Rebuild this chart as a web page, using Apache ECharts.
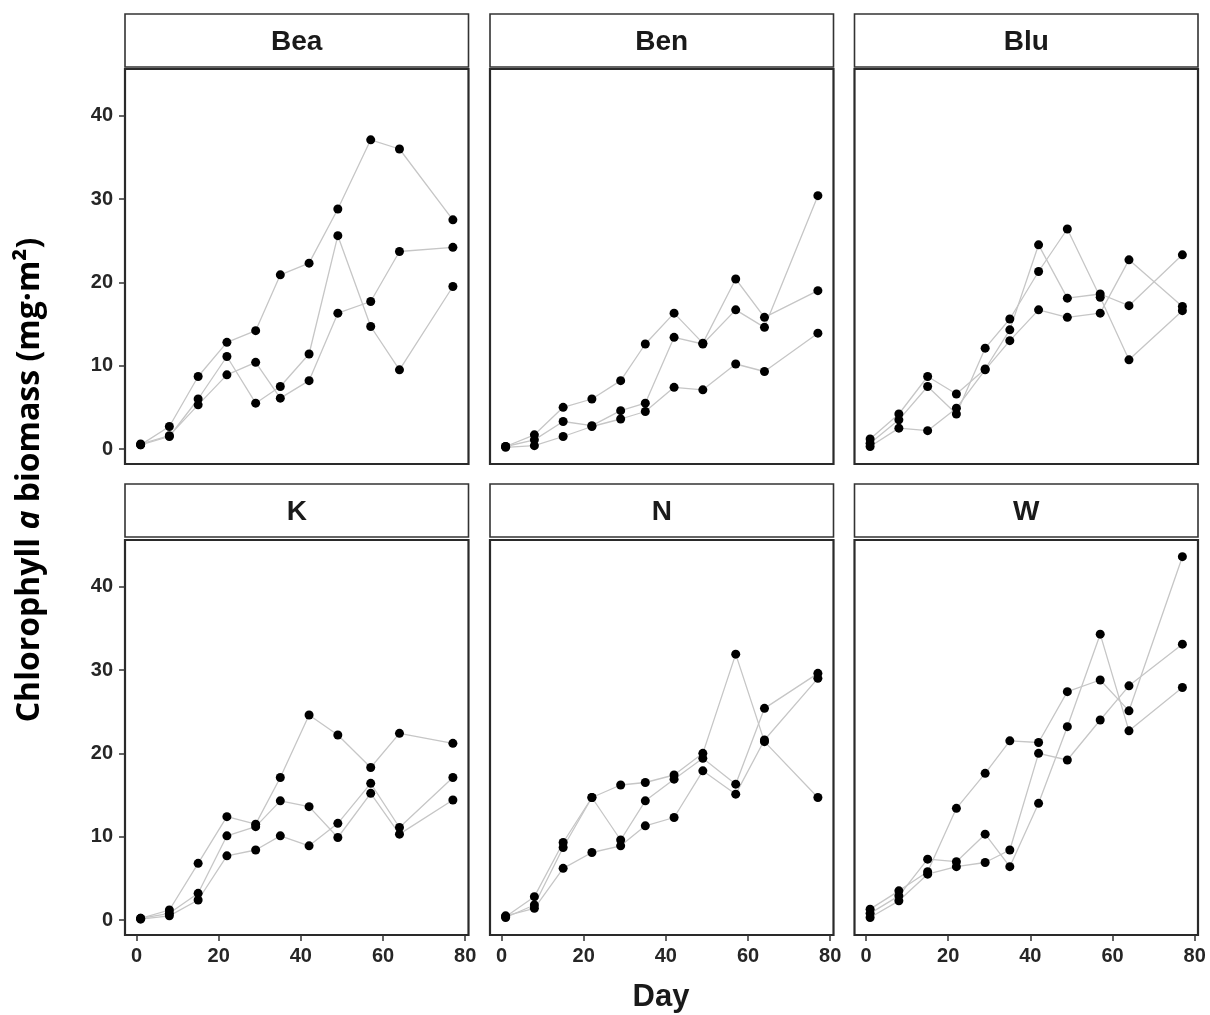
<!DOCTYPE html>
<html>
<head>
<meta charset="utf-8">
<script src="https://cdn.jsdelivr.net/npm/echarts@6/dist/echarts.min.js"></script>
<style>
html,body{margin:0;padding:0;background:#fff;}
#chart{width:1210px;height:1015px;}
</style>
</head>
<body>
<div id="chart"></div>
<script>
// ---- Data ----
const days = [1, 8, 15, 22, 29, 35, 42, 49, 57, 64, 77];
const panelNames = ['Bea', 'Ben', 'Blu', 'K', 'N', 'W'];
const xTicks = [0, 20, 40, 60, 80];
const yTicks = [0, 10, 20, 30, 40];

const bea1 = [0.5, 2.7, 8.7, 12.8, 14.2, 20.9, 22.3, 28.8, 37.1, 36.0, 27.5];
const bea2 = [0.5, 1.5, 6.0, 11.1, 5.5, 7.5, 11.4, 25.6, 14.7, 9.5, 19.5];
const bea3 = [0.6, 1.6, 5.3, 8.9, 10.4, 6.1, 8.2, 16.3, 17.7, 23.7, 24.2];

const ben1 = [0.3, 1.7, 5.0, 6.0, 8.2, 12.6, 16.3, 12.7, 20.4, 15.8, 19.0];
const ben2 = [0.3, 1.1, 3.3, 2.8, 4.6, 5.5, 13.4, 12.6, 16.7, 14.6, 30.4];
const ben3 = [0.2, 0.4, 1.5, 2.7, 3.6, 4.5, 7.4, 7.1, 10.2, 9.3, 13.9];

const blu1 = [1.2, 4.2, 8.7, 6.6, 9.6, 14.3, 24.5, 18.1, 18.6, 17.2, 23.3];
const blu2 = [0.7, 3.5, 7.5, 4.2, 12.1, 15.6, 21.3, 26.4, 18.2, 10.7, 16.6];
const blu3 = [0.3, 2.5, 2.2, 4.9, 9.5, 13.0, 16.7, 15.8, 16.3, 22.7, 17.1];

const k1 = [0.2, 1.2, 6.8, 12.4, 11.5, 17.1, 24.6, 22.2, 18.3, 22.4, 21.2];
const k2 = [0.2, 0.8, 3.2, 10.1, 11.2, 14.3, 13.6, 9.9, 15.2, 10.3, 14.4];
const k3 = [0.1, 0.5, 2.4, 7.7, 8.4, 10.1, 8.9, 11.6, 16.4, 11.1, 17.1];

const n1 = [0.4, 2.8, 9.3, 14.7, 16.2, 16.5, 17.4, 20.0, 31.9, 21.4, 14.7];
const n2 = [0.3, 1.8, 8.7, 14.7, 9.6, 14.3, 16.9, 19.4, 16.3, 25.4, 29.6];
const n3 = [0.5, 1.4, 6.2, 8.1, 8.9, 11.3, 12.3, 17.9, 15.1, 21.6, 29.0];

const w1 = [1.3, 3.5, 5.8, 13.4, 17.6, 21.5, 21.3, 27.4, 28.8, 25.1, 43.6];
const w2 = [0.8, 2.9, 7.3, 7.0, 10.3, 6.4, 14.0, 23.2, 34.3, 22.7, 27.9];
const w3 = [0.3, 2.3, 5.5, 6.4, 6.9, 8.4, 20.0, 19.2, 24.0, 28.1, 33.1];

const panelSeries = [
  [bea1, bea2, bea3],
  [ben1, ben2, ben3],
  [blu1, blu2, blu3],
  [k1, k2, k3],
  [n1, n2, n3],
  [w1, w2, w3]
];

// ---- Layout ----
const colLefts = [125, 490, 854.5];
const panelW = 343.5;
const rowTops = [69, 540];
const panelH = 395;
const stripTops = [14, 484];
const stripH = 53;

const labelFont = '"Liberation Sans", Arial, sans-serif';
const textColor = '#262626';

const grids = [], xAxes = [], yAxes = [], series = [], graphics = [];

panelNames.forEach((name, p) => {
  const col = p % 3, row = Math.floor(p / 3);
  const left = colLefts[col], top = rowTops[row];
  grids.push({
    left: left, top: top, width: panelW, height: panelH,
    show: true, borderColor: '#2a2a2a', borderWidth: 2.2, backgroundColor: '#fff'
  });
  const showX = row === 1, showY = col === 0;
  xAxes.push({
    type: 'value', gridIndex: p, min: -2.8, max: 80.8,
    axisLine: { show: false, onZero: false },
    splitLine: { show: false },
    axisTick: { show: showX, inside: false, length: 6, lineStyle: { color: '#333', width: 1.5 }, customValues: xTicks },
    axisLabel: { show: showX, customValues: xTicks, margin: 11, fontSize: 20, fontWeight: 'bold', fontFamily: labelFont, color: textColor }
  });
  yAxes.push({
    type: 'value', gridIndex: p, min: -1.8, max: 45.6,
    axisLine: { show: false, onZero: false },
    splitLine: { show: false },
    axisTick: { show: showY, inside: false, length: 6, lineStyle: { color: '#333', width: 1.5 }, customValues: yTicks },
    axisLabel: { show: showY, customValues: yTicks, margin: 12, fontSize: 20, fontWeight: 'bold', fontFamily: labelFont, color: textColor }
  });
  panelSeries[p].forEach((vals) => {
    const data = days.map((d, i) => [d, vals[i]]);
    series.push({
      type: 'line', xAxisIndex: p, yAxisIndex: p, data: data,
      symbol: 'none', z: 2,
      lineStyle: { color: '#c6c6c6', width: 1.3 }
    });
  });
  panelSeries[p].forEach((vals) => {
    const data = days.map((d, i) => [d, vals[i]]);
    series.push({
      type: 'scatter', xAxisIndex: p, yAxisIndex: p, data: data,
      symbol: 'circle', symbolSize: 9, z: 3,
      itemStyle: { color: '#000', opacity: 1 }
    });
  });
  // strip header
  graphics.push({
    type: 'rect',
    shape: { x: left, y: stripTops[row], width: panelW, height: stripH },
    style: { fill: '#fff', stroke: '#333', lineWidth: 1.6 },
    z: 10
  });
  graphics.push({
    type: 'text',
    x: left + panelW / 2, y: stripTops[row] + stripH / 2 + 2,
    style: {
      text: name, align: 'center', verticalAlign: 'middle',
      font: 'bold 28px ' + labelFont, fill: '#1a1a1a'
    },
    z: 11
  });
});

// axis titles
graphics.push({
  type: 'text',
  x: 661, y: 997,
  style: {
    text: 'Day', align: 'center', verticalAlign: 'middle',
    font: 'bold 31px ' + labelFont, fill: '#1a1a1a'
  }
});
graphics.push({
  type: 'text',
  x: 30, y: 480,
  rotation: Math.PI / 2,
  style: {
    text: '{b|Chlorophyll }{i|a}{b| biomass (mg·m²)}',
    align: 'center', verticalAlign: 'middle',
    rich: {
      b: { fontSize: 32, fontWeight: 'bold', fontFamily: '"Open Sans", Lato, sans-serif', fill: '#000' },
      i: { fontSize: 32, fontWeight: 'bold', fontStyle: 'italic', fontFamily: '"Open Sans", Lato, sans-serif', fill: '#000' }
    }
  }
});

const chart = echarts.init(document.getElementById('chart'), null, { renderer: 'canvas' });
chart.setOption({
  animation: false,
  backgroundColor: '#fff',
  grid: grids,
  xAxis: xAxes,
  yAxis: yAxes,
  series: series,
  graphic: graphics
});
</script>
</body>
</html>
